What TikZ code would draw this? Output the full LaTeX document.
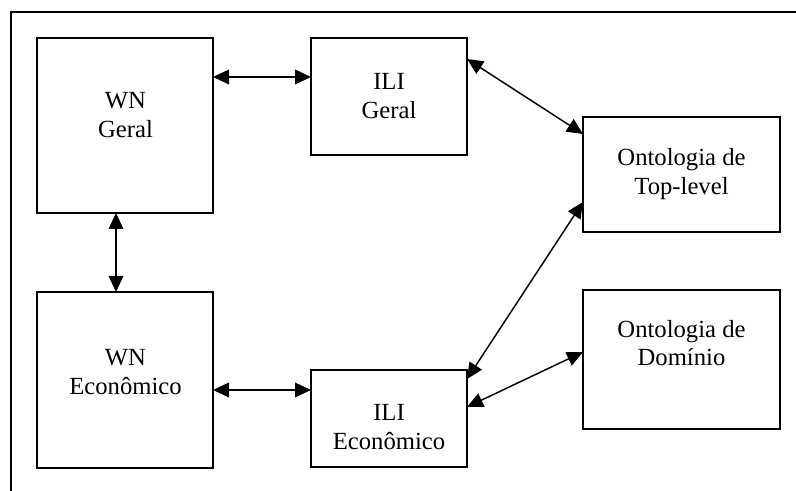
\documentclass[tikz,border=0pt]{standalone}
\usepackage{fontspec}
\setmainfont{Liberation Serif}
\usetikzlibrary{arrows.meta}
\begin{document}
\begin{tikzpicture}[x=0.75pt,y=-0.75pt,
  box/.style={draw, line width=1.5pt, inner sep=0pt, outer sep=0pt},
  lbl/.style={align=center, font=\fontsize{18.5}{21.5}\selectfont, inner sep=0pt},
  link/.style={line width=1.1pt, {Triangle[length=12pt,width=11pt]}-{Triangle[length=12pt,width=11pt]}}]
\useasboundingbox (0,0) rectangle (796,491);
% outer frame
\draw[line width=1.5pt] (11,491) -- (11,12) -- (796,12);
% boxes
\node[box, minimum width=132pt, minimum height=131.25pt] (wng) at (125,125.5) {};
\node[box, minimum width=117pt, minimum height=87.75pt] (ilig) at (389,96.5) {};
\node[box, minimum width=147.75pt, minimum height=86.25pt] (top) at (681.5,174.5) {};
\node[box, minimum width=132pt, minimum height=132pt] (wne) at (125,380) {};
\node[box, minimum width=117pt, minimum height=72.75pt] (ilie) at (389,418.5) {};
\node[box, minimum width=147.75pt, minimum height=104.25pt] (dom) at (681.5,359.5) {};
% labels
\node[lbl] (twng) at (125.5,115) {WN\\Geral};
\node[lbl] (tilig) at (389,96) {ILI\\Geral};
\node[lbl] (ttop) at (681.5,174) {Ontologia de\\Top-level};
\node[lbl] (twne) at (125.5,372) {WN\\Econômico};
\node[lbl] (tilie) at (389,427) {ILI\\Econômico};
\node[lbl] (tdom) at (681.5,343) {Ontologia de\\Domínio};
% connectors
\draw[link] (wng.east |- 0,77) -- (ilig.west |- 0,77);
\draw[link] (wng.south -| 116,0) -- (wne.north -| 116,0);
\draw[link] (wne.east |- 0,390) -- (ilie.west |- 0,390);
\draw[link] (ilig.east |- 0,59) -- (top.west |- 0,134);
\draw[link] (ilie.east |- 0,379) -- (top.west |- 0,202);
\draw[link] (ilie.east |- 0,407) -- (dom.west |- 0,352);
\end{tikzpicture}
\end{document}
